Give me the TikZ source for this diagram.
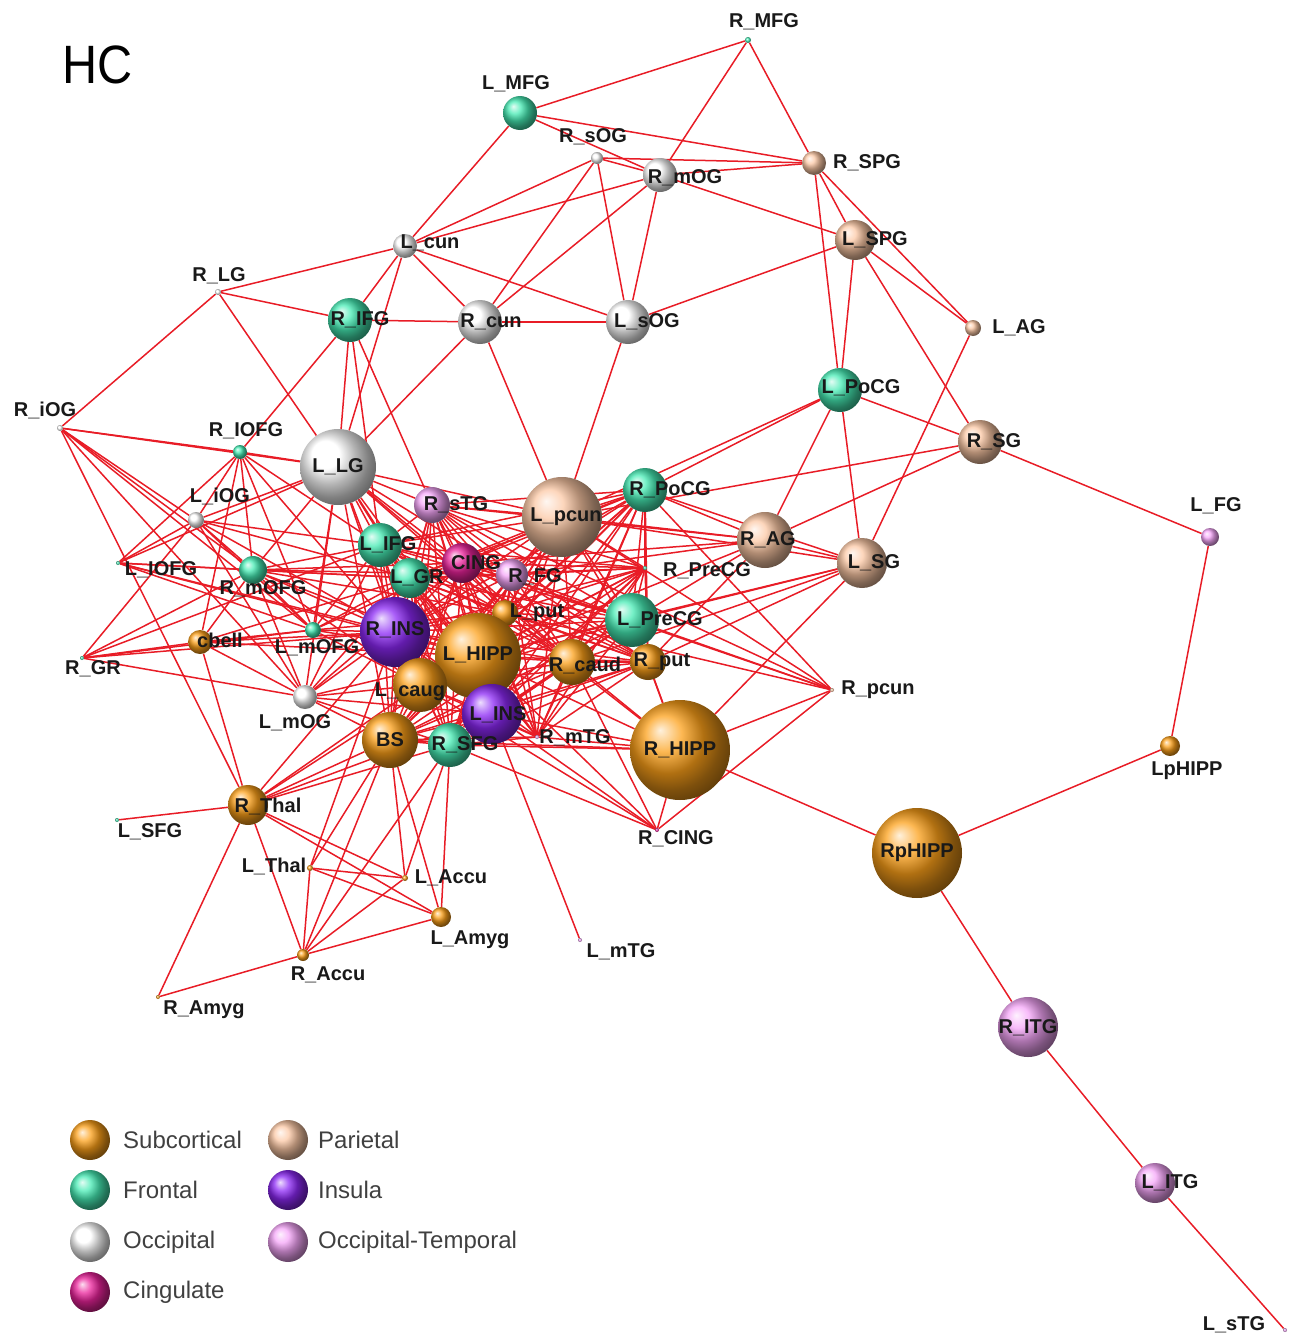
\documentclass[tikz,border=0pt]{standalone}
\usepackage{fontspec}
\setmainfont{Liberation Sans}
\usetikzlibrary{backgrounds}
\definecolor{subcol}{RGB}{252,160,25}
\definecolor{frontcol}{RGB}{70,235,180}
\definecolor{occicol}{RGB}{255,255,255}
\definecolor{cingcol}{RGB}{235,35,155}
\definecolor{paricol}{RGB}{252,200,165}
\definecolor{insucol}{RGB}{140,40,245}
\definecolor{octecol}{RGB}{245,165,248}
\definecolor{linkred}{RGB}{232,28,38}
\tikzset{
  roiball/.style={circle,inner sep=0pt,shading=ball},
  subc/.style={roiball,ball color=subcol},
  front/.style={roiball,ball color=frontcol},
  occi/.style={roiball,ball color=occicol},
  cing/.style={roiball,ball color=cingcol},
  pari/.style={roiball,ball color=paricol},
  insu/.style={roiball,ball color=insucol},
  octe/.style={roiball,ball color=octecol},
  roi/.style={font=\bfseries\fontsize{20}{20}\selectfont,text=black!90,inner sep=0pt},
  legtext/.style={font=\fontsize{24}{24}\selectfont,text=black!75,anchor=west,inner sep=0pt},
  link/.style={draw=linkred,line width=1.5pt},
}
\begin{document}
\begin{tikzpicture}[x=1pt,y=-1pt]
\useasboundingbox (0,0) rectangle (1299,1341);
\node[font=\fontsize{54}{54}\selectfont,xscale=.9] (title) at (98,65) {HC};
%
\node[front,minimum size=6] (RMFG) at (748,40) {};
\node[front,minimum size=34] (LMFG) at (520,113) {};
\node[occi,minimum size=12] (RsOG) at (597,158) {};
\node[occi,minimum size=34] (RmOG) at (660,175) {};
\node[pari,minimum size=24] (RSPG) at (814,163) {};
\node[pari,minimum size=40] (LSPG) at (855,240) {};
\node[occi,minimum size=24] (Lcun) at (405,246) {};
\node[occi,minimum size=6] (RLG) at (218,292) {};
\node[front,minimum size=44] (RIFG) at (350,320) {};
\node[occi,minimum size=44] (Rcun) at (480,322) {};
\node[occi,minimum size=44] (LsOG) at (628,322) {};
\node[pari,minimum size=16] (LAG) at (973,328) {};
\node[front,minimum size=44] (LPoCG) at (840,390) {};
\node[occi,minimum size=6] (RiOG) at (60,428) {};
\node[front,minimum size=14] (RIOFG) at (240,452) {};
\node[occi,minimum size=76] (LLG) at (338,467) {};
\node[pari,minimum size=44] (RSG) at (980,442) {};
\node[occi,minimum size=16] (LiOG) at (196,520) {};
\node[octe,minimum size=36] (RsTG) at (432,505) {};
\node[pari,minimum size=80] (Lpcun) at (562,517) {};
\node[front,minimum size=44] (RPoCG) at (645,490) {};
\node[octe,minimum size=18] (LFG) at (1210,537) {};
\node[pari,minimum size=56] (RAG) at (765,540) {};
\node[pari,minimum size=50] (LSG) at (862,563) {};
\node[front,minimum size=44] (LIFG) at (380,545) {};
\node[front,minimum size=40] (LGR) at (410,578) {};
\node[cing,minimum size=40] (CING) at (462,563) {};
\node[octe,minimum size=32] (RFG) at (512,575) {};
\node[front,minimum size=4] (RPreCG) at (645,568) {};
\node[front,minimum size=28] (RmOFG) at (253,570) {};
\node[front,minimum size=4] (LIOFG) at (118,563) {};
\node[subc,minimum size=26] (Lput) at (505,613) {};
\node[front,minimum size=54] (LPreCG) at (632,620) {};
\node[insu,minimum size=70] (RINS) at (395,632) {};
\node[subc,minimum size=86] (LHIPP) at (478,656) {};
\node[subc,minimum size=24] (cbell) at (200,642) {};
\node[front,minimum size=16] (LmOFG) at (313,630) {};
\node[front,minimum size=4] (RGR) at (82,658) {};
\node[subc,minimum size=46] (Rcaud) at (572,662) {};
\node[subc,minimum size=36] (Rput) at (648,662) {};
\node[pari,minimum size=4] (Rpcun) at (832,690) {};
\node[subc,minimum size=54] (Lcaug) at (420,685) {};
\node[occi,minimum size=24] (LmOG) at (305,697) {};
\node[insu,minimum size=60] (LINS) at (492,714) {};
\node[subc,minimum size=56] (BS) at (390,740) {};
\node[front,minimum size=44] (RSFG) at (450,745) {};
\node[octe,minimum size=4] (RmTG) at (537,737) {};
\node[subc,minimum size=100] (RHIPP) at (680,750) {};
\node[subc,minimum size=20] (LpHIPP) at (1170,746) {};
\node[subc,minimum size=40] (RThal) at (248,805) {};
\node[front,minimum size=4] (LSFG) at (117,820) {};
\node[cing,minimum size=4] (RCING) at (657,830) {};
\node[subc,minimum size=90] (RpHIPP) at (917,853) {};
\node[subc,minimum size=6] (LThal) at (310,868) {};
\node[subc,minimum size=6] (LAccu) at (405,878) {};
\node[subc,minimum size=20] (LAmyg) at (441,917) {};
\node[octe,minimum size=4] (LmTG) at (580,940) {};
\node[subc,minimum size=12] (RAccu) at (303,955) {};
\node[subc,minimum size=4] (RAmyg) at (158,997) {};
\node[octe,minimum size=60] (RITG) at (1028,1027) {};
\node[octe,minimum size=40] (LITG) at (1155,1183) {};
\node[octe,minimum size=4] (LsTG) at (1285,1330) {};
%
\begin{pgfonlayer}{background}
\foreach \a/\bs in {RMFG/{LMFG,RmOG,RSPG}, LMFG/{RmOG,RSPG,Lcun},
  RsOG/{RmOG,RSPG,Lcun,Rcun,LsOG}, RmOG/{Lcun,Rcun,LsOG,RSPG,LSPG},
  RSPG/{LSPG,LAG,LPoCG}, LSPG/{LAG,RSG,LsOG,LPoCG},
  Lcun/{RLG,Rcun,LsOG,RIFG,LLG}, RLG/{RIFG,RiOG,LLG},
  RIFG/{Rcun,LLG,RsTG,RIOFG,LIFG}, Rcun/{LsOG,Lpcun,LLG}, LsOG/{Lpcun},
  LAG/{LSG}, LPoCG/{RSG,RPoCG,RAG,LSG,Lpcun}, RSG/{RAG,LFG,Lpcun},
  LFG/{LpHIPP}, LpHIPP/{RpHIPP}, RpHIPP/{RHIPP,RITG}, RITG/{LITG}, LITG/{LsTG},
  RiOG/{RIOFG,LLG,LiOG,RmOFG,LmOFG,LmOG,RThal},
  RIOFG/{LLG,LiOG,RmOFG,LIOFG,LmOFG,LIFG,RINS,cbell},
  LiOG/{LLG,LIFG,RINS,LGR,RmOFG,LmOG,RGR,LmOFG},
  LIOFG/{LLG,RmOFG,LGR,RINS,LmOFG,LiOG,LHIPP},
  RGR/{RmOFG,LIFG,RINS,LmOFG,LmOG,cbell},
  cbell/{LmOG,RINS,LmOFG,LGR,RmOFG,RThal,LHIPP},
  LmOG/{LLG,RINS,LHIPP,Lcaug,LGR,LIFG,BS,LINS,RSFG,CING,RmOFG},
  RmOFG/{LLG,LIFG,LGR,RINS,LHIPP,CING,Lcaug,Lput,RFG,LmOFG},
  LmOFG/{RINS,LHIPP,LGR,LIFG,Lcaug,Lput,CING,LLG},
  LLG/{RsTG,LIFG,LGR,CING,RFG,RINS,LHIPP,Lput,Lpcun,Lcaug,LINS,Rcaud,BS},
  RThal/{LSFG,BS,RINS,LHIPP,Lcaug,LINS,LAccu,LAmyg,RAccu,RAmyg,RSFG},
  LThal/{BS,LAccu,RAccu,LAmyg,RINS}, BS/{LAccu,RAccu,LAmyg},
  RSFG/{LAmyg,LAccu,RAccu}, RAccu/{RAmyg,LAmyg,LAccu}, LmTG/{LINS},
  RCING/{LINS,RSFG,LHIPP,Rcaud,Rpcun,RHIPP,Lcaug},
  Rpcun/{Lpcun,RPoCG,LPreCG,RHIPP,Lput,CING,RsTG},
  LSG/{RAG,RHIPP,Lpcun,RPoCG,LPreCG,Rput,Rcaud,LHIPP},
  RAG/{Lpcun,RPoCG,LPreCG,Rput,LHIPP,RFG,CING,RsTG},
  RHIPP/{Rput,Rcaud,LHIPP,LINS,RmTG,LPreCG,Lput,RSFG,BS}}
  \foreach \b in \bs \draw[link] (\a) -- (\b);
% dense core
\foreach \a [count=\i] in {RINS,LHIPP,Lcaug,LINS,BS,RSFG,LGR,LIFG,CING,RFG,Lput,Rcaud,Rput,RsTG,Lpcun,RPoCG,LPreCG,RmTG,RPreCG}
  \foreach \b [count=\j] in {RINS,LHIPP,Lcaug,LINS,BS,RSFG,LGR,LIFG,CING,RFG,Lput,Rcaud,Rput,RsTG,Lpcun,RPoCG,LPreCG,RmTG,RPreCG}
    {\ifnum\j>\i \draw[link] (\a) -- (\b); \fi}
\end{pgfonlayer}
%
\foreach \n/\t/\x/\y in {RMFG/R\_MFG/764/22, LMFG/L\_MFG/516/84, RsOG/R\_sOG/593/137,
  RmOG/R\_mOG/685/178, RSPG/R\_SPG/867/163, LSPG/L\_SPG/875/240, Lcun/L\_cun/430/243,
  RLG/R\_LG/219/276, RIFG/R\_IFG/360/320, Rcun/R\_cun/491/322, LsOG/L\_sOG/647/322,
  LAG/L\_AG/1019/328, LPoCG/L\_PoCG/861/388, RiOG/R\_iOG/45/410, RIOFG/R\_IOFG/246/431,
  LLG/L\_LG/338/467, RSG/R\_SG/994/442, LiOG/L\_iOG/220/496, RsTG/R\_sTG/456/505,
  Lpcun/L\_pcun/566/517, RPoCG/R\_PoCG/670/490, LFG/L\_FG/1216/506, RAG/R\_AG/768/540,
  LSG/L\_SG/874/563, LIFG/L\_IFG/388/545, LGR/L\_GR/417/578, CING/CING/476/563,
  RFG/R\_FG/535/577, RPreCG/R\_PreCG/707/571, RmOFG/R\_mOFG/263/589,
  LIOFG/L\_IOFG/161/570, Lput/L\_put/537/613, LPreCG/L\_PreCG/660/620,
  RINS/R\_INS/395/630, LHIPP/L\_HIPP/478/655, cbell/cbell/220/640,
  LmOFG/L\_mOFG/317/648, RGR/R\_GR/93/669, Rcaud/R\_caud/585/665, Rput/R\_put/662/662,
  Rpcun/R\_pcun/878/690, Lcaug/L\_caug/410/692, LmOG/L\_mOG/295/723,
  LINS/L\_INS/498/715, BS/BS/390/740, RSFG/R\_SFG/465/745, RmTG/R\_mTG/575/738,
  RHIPP/R\_HIPP/680/750, LpHIPP/LpHIPP/1187/771, RThal/R\_Thal/268/806,
  LSFG/L\_SFG/150/832, RCING/R\_CING/676/839, RpHIPP/RpHIPP/917/853,
  LThal/L\_Thal/274/866, LAccu/L\_Accu/451/878, LAmyg/L\_Amyg/470/940,
  LmTG/L\_mTG/621/952, RAccu/R\_Accu/328/975, RAmyg/R\_Amyg/204/1010,
  RITG/R\_ITG/1028/1028, LITG/L\_ITG/1170/1183, LsTG/L\_sTG/1234/1325}
  \node[roi] (\n-t) at (\x,\y) {\t};
%
% legend
\node[subc,minimum size=40] (legsub) at (90,1140) {};
\node[front,minimum size=40] (legfro) at (90,1190) {};
\node[occi,minimum size=40] (legocc) at (90,1242) {};
\node[cing,minimum size=40] (legcin) at (90,1292) {};
\node[pari,minimum size=40] (legpar) at (288,1140) {};
\node[insu,minimum size=40] (legins) at (288,1190) {};
\node[octe,minimum size=40] (legoct) at (288,1242) {};
\node[legtext] (legsub-t) at (123,1140) {Subcortical};
\node[legtext] (legfro-t) at (123,1190) {Frontal};
\node[legtext] (legocc-t) at (123,1242) {Occipital};
\node[legtext] (legcin-t) at (123,1292) {Cingulate};
\node[legtext] (legpar-t) at (318,1140) {Parietal};
\node[legtext] (legins-t) at (318,1190) {Insula};
\node[legtext] (legoct-t) at (318,1242) {Occipital-Temporal};
\end{tikzpicture}
\end{document}
